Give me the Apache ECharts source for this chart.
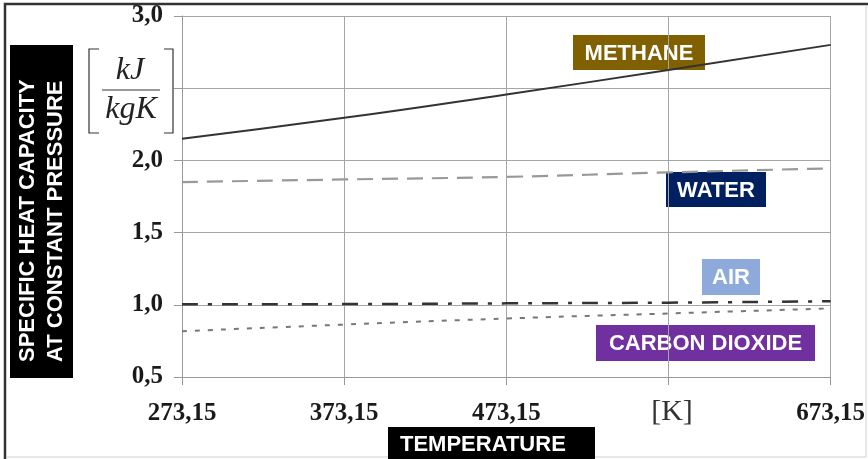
<!DOCTYPE html>
<html>
<head>
<meta charset="utf-8">
<script src="https://cdn.jsdelivr.net/npm/echarts@6/dist/echarts.min.js"></script>
<style>
  html, body { margin: 0; padding: 0; background: #fff; }
  #chart { width: 868px; height: 459px; }
</style>
</head>
<body>
<div id="chart"></div>
<script>
// temperatures in K, read at the grid lines
var temps = [273.15, 373.15, 473.15, 573.15, 673.15];
// cp in kJ/(kg K)
var methane = [2.15, 2.295, 2.457, 2.626, 2.80];
var water = [1.85, 1.868, 1.886, 1.917, 1.945];
var air = [1.003, 1.005, 1.01, 1.015, 1.025];
var carbonDioxide = [0.817, 0.863, 0.905, 0.94, 0.975];
var yMin = 0.5, yMax = 3.0, yStep = 0.5;

var T0 = temps[0];
function pts(vals) {
    return temps.map(function (t, i) { return [t - T0, vals[i]]; });
}
function comma(v, d) { return v.toFixed(d).replace('.', ','); }

var chart = echarts.init(document.getElementById('chart'));

var serifLbl = { fontFamily: 'Liberation Serif', fontWeight: 'bold', fontSize: 25, color: '#1a1a1a' };
var gridLine = { lineStyle: { color: '#a6a6a6', width: 1 } };

function tag(text, x, y, w, h, color) {
    return {
        type: 'group', z: 100,
        children: [
            { type: 'rect', shape: { x: x, y: y, width: w, height: h }, style: { fill: color } },
            { type: 'text', style: { text: text, x: x + w / 2, y: y + h / 2 + 1, align: 'center', verticalAlign: 'middle',
                fill: '#fff', font: 'bold 22px "Liberation Sans", Arial' } }
        ]
    };
}

var option = {
    backgroundColor: '#fff',
    animation: false,
    grid: { left: 182, right: 37, top: 16, bottom: 82 },
    xAxis: {
        type: 'value', min: 0, max: temps[temps.length - 1] - T0, interval: 100,
        axisLine: { lineStyle: { color: '#999' } },
        axisTick: { length: 8, lineStyle: { color: '#999' } },
        splitLine: gridLine,
        axisLabel: Object.assign({ margin: 24, formatter: function (v) { return comma(v + T0, 2); } }, serifLbl)
    },
    yAxis: {
        type: 'value', min: yMin, max: yMax, interval: yStep,
        axisLine: { show: true, lineStyle: { color: '#999' } },
        axisTick: { show: true, length: 8, lineStyle: { color: '#999' } },
        splitLine: gridLine,
        axisLabel: Object.assign({ margin: 19, formatter: function (v) { return comma(v, 1); } }, serifLbl)
    },
    series: [
        { name: 'METHANE', type: 'line', data: pts(methane), smooth: true, showSymbol: false,
          lineStyle: { color: '#333', width: 2 } },
        { name: 'WATER', type: 'line', data: pts(water), smooth: true, showSymbol: false,
          lineStyle: { color: '#999', width: 2.2, type: [16, 9] } },
        { name: 'AIR', type: 'line', data: pts(air), smooth: true, showSymbol: false,
          lineStyle: { color: '#333', width: 2.5, type: [16, 10, 4, 10] } },
        { name: 'CARBON DIOXIDE', type: 'line', data: pts(carbonDioxide), smooth: true, showSymbol: false,
          lineStyle: { color: '#777', width: 2, type: [5, 8] } }
    ],
    graphic: [
        // frame
        { type: 'polyline', z: 100, shape: { points: [[5, 459], [5, 4], [868, 4]] }, style: { stroke: '#333', lineWidth: 2.5, fill: null } },
        { type: 'polyline', z: 100, shape: { points: [[866, 6], [866, 457], [6, 457]] }, style: { stroke: '#d0d0d0', lineWidth: 1, fill: null } },
        // y title
        { type: 'rect', z: 100, shape: { x: 10, y: 45, width: 63, height: 333 }, style: { fill: '#000' } },
        { type: 'text', z: 101, x: 42, y: 362, rotation: Math.PI / 2,
          style: { text: 'SPECIFIC HEAT CAPACITY\nAT CONSTANT PRESSURE', align: 'left', verticalAlign: 'middle',
                   lineHeight: 28, fill: '#fff', font: 'bold 22px "Liberation Sans", Arial' } },
        // x title
        { type: 'rect', z: 100, shape: { x: 388, y: 427, width: 207, height: 40 }, style: { fill: '#000' } },
        { type: 'text', z: 101, style: { text: 'TEMPERATURE', x: 400, y: 445, align: 'left', verticalAlign: 'middle',
                   fill: '#fff', font: 'bold 22px "Liberation Sans", Arial' } },
        // unit kJ/kgK (sits on a white patch, as in the source)
        { type: 'rect', z: 100, shape: { x: 80, y: 40, width: 93, height: 100 }, style: { fill: '#fff' } },
        { type: 'polyline', z: 101, shape: { points: [[99, 49], [89, 49], [89, 133], [99, 133]] }, style: { stroke: '#333', lineWidth: 1.2, fill: null } },
        { type: 'polyline', z: 101, shape: { points: [[164, 49], [173, 49], [173, 133], [164, 133]] }, style: { stroke: '#333', lineWidth: 1.2, fill: null } },
        { type: 'line', z: 101, shape: { x1: 102, y1: 90, x2: 160, y2: 90 }, style: { stroke: '#333', lineWidth: 1.2 } },
        { type: 'text', z: 101, style: { text: 'kJ', x: 130, y: 71, align: 'center', verticalAlign: 'middle',
                   fill: '#222', font: 'italic 32px "Liberation Serif", serif' } },
        { type: 'text', z: 101, style: { text: 'kgK', x: 131, y: 110, align: 'center', verticalAlign: 'middle',
                   fill: '#222', font: 'italic 32px "Liberation Serif", serif' } },
        { type: 'rect', z: 100, shape: { x: 615, y: 392, width: 110, height: 34 }, style: { fill: '#fff' } },
        { type: 'text', z: 101, style: { text: '[K]', x: 672, y: 412, align: 'center', verticalAlign: 'middle',
                   fill: '#333', font: '30px "Liberation Serif", serif' } },
        // series tags
        tag('METHANE', 573, 35, 132, 35, '#806000'),
        tag('WATER', 666, 172, 100, 35, '#002060'),
        tag('AIR', 702, 259, 58, 36, '#8eaadb'),
        tag('CARBON DIOXIDE', 596, 325, 219, 36, '#7030a0')
    ]
};

chart.setOption(option);
</script>
</body>
</html>
